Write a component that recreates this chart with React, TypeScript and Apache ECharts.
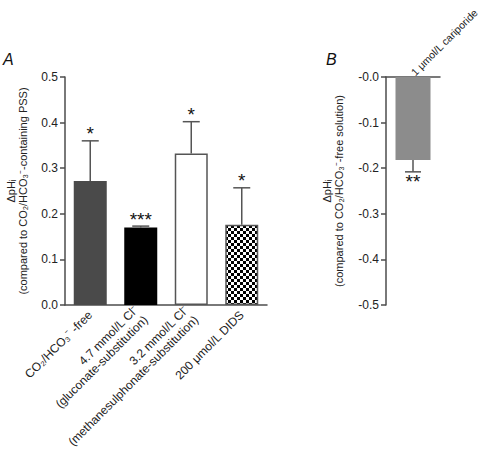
import React, { useEffect, useRef } from "react";
import * as echarts from "echarts";

const categoriesA = [
  "CO₂/HCO₃⁻ -free",
  "4.7 mmol/L Cl⁻\n(gluconate-substitution)",
  "3.2 mmol/L Cl⁻\n(methanesulphonate-substitution)",
  "200 μmol/L DIDS",
];
const meansA = [0.272, 0.170, 0.332, 0.176];
const errA = [0.088, 0.003, 0.070, 0.081];
const sigA = ["*", "***", "*", "*"];

const categoriesB = ["1 μmol/L cariporide"];
const meansB = [-0.182];
const errB = [0.026];
const sigB = ["**"];

const ticksA = [0, 0.5, 0.1];
const ticksB = [-0.5, 0, 0.1];

const FONT = "'Liberation Sans', Arial, Helvetica, sans-serif";
const AXIS_COLOR = "#4d4d4d";

function checker(): HTMLCanvasElement {
  const c = document.createElement("canvas");
  c.width = 6;
  c.height = 6;
  const ctx = c.getContext("2d")!;
  ctx.fillStyle = "#fff";
  ctx.fillRect(0, 0, 6, 6);
  ctx.fillStyle = "#000";
  ctx.fillRect(0, 0, 3, 3);
  ctx.fillRect(3, 3, 3, 3);
  return c;
}

export default function App() {
  const ref = useRef<HTMLDivElement>(null);
  useEffect(() => {
    if (!ref.current) return;
    const chart = echarts.init(ref.current, undefined, { renderer: "svg" });
    const pattern: any = { image: checker(), repeat: "repeat", imageWidth: 6, imageHeight: 6 };
    const fillsA: any[] = [
      { color: "#4a4a4a", borderColor: "#4a4a4a", borderWidth: 0 },
      { color: "#000000", borderColor: "#000", borderWidth: 0 },
      { color: "#ffffff", borderColor: "#555", borderWidth: 1.5 },
      { color: pattern, borderColor: "#555", borderWidth: 1.5 },
    ];
    const axisLine = { show: true, lineStyle: { color: AXIS_COLOR, width: 1.5 } };
    const labelStyle = { color: "#222", fontFamily: FONT, fontSize: 12 };

    const errRender = (dir: number, capW: number) => (params: any, api: any) => {
      const idx = params.dataIndex;
      const x = api.value(0);
      const mean = api.value(1);
      const end = api.value(2);
      const sig = dir > 0 ? sigA[idx] : sigB[idx];
      const p0 = api.coord([x, mean]);
      const p1 = api.coord([x, end]);
      const style = { stroke: "#555", lineWidth: 1.5 };
      return {
        type: "group",
        children: [
          { type: "line", shape: { x1: p0[0], y1: p0[1], x2: p1[0], y2: p1[1] }, style },
          { type: "line", shape: { x1: p1[0] - capW / 2, y1: p1[1], x2: p1[0] + capW / 2, y2: p1[1] }, style },
          {
            type: "text",
            style: {
              text: sig,
              x: p1[0],
              y: dir > 0 ? p1[1] - 7 : p1[1] + 10,
              align: "center",
              verticalAlign: "middle",
              fontSize: 19,
              fontFamily: FONT,
              fill: "#111",
            },
          },
        ],
      };
    };

    chart.setOption({
      animation: false,
      textStyle: { fontFamily: FONT },
      graphic: [
        { type: "text", left: 3, top: 51, style: { text: "A", font: `italic 16px ${FONT}`, fill: "#111" } },
        { type: "text", left: 326, top: 51, style: { text: "B", font: `italic 16px ${FONT}`, fill: "#111" } },
      ],
      grid: [
        { left: 65, top: 77, width: 202, height: 228, outerBoundsMode: "none", containLabel: false },
        { left: 386, top: 77, width: 54, height: 228, outerBoundsMode: "none", containLabel: false },
      ],
      xAxis: [
        {
          type: "category",
          gridIndex: 0,
          data: categoriesA,
          axisLine,
          axisTick: { show: false },
          axisLabel: { ...labelStyle, fontSize: 12, rotate: 45, margin: 8, interval: 0, lineHeight: 14 },
        },
        {
          type: "category",
          gridIndex: 1,
          position: "top",
          data: categoriesB,
          axisLine: { ...axisLine, onZero: false },
          axisTick: { show: false },
          axisLabel: { ...labelStyle, fontSize: 10.5, rotate: -45, margin: 3, interval: 0, overflow: "none" },
        },
      ],
      yAxis: [
        {
          type: "value",
          gridIndex: 0,
          min: ticksA[0],
          max: ticksA[1],
          interval: ticksA[2],
          axisLine,
          axisTick: { show: true, length: 5, lineStyle: { color: AXIS_COLOR, width: 1.5 } },
          splitLine: { show: false },
          axisLabel: { ...labelStyle, margin: 7, formatter: (v: number) => v.toFixed(1) },
          name: "ΔpHᵢ\n(compared to CO₂/HCO₃⁻-containing PSS)",
          nameLocation: "middle",
          nameRotate: 90,
          nameGap: 36,
          nameTextStyle: { color: "#222", fontFamily: FONT, fontSize: 11, lineHeight: 12 },
        },
        {
          type: "value",
          gridIndex: 1,
          min: ticksB[0],
          max: ticksB[1],
          interval: ticksB[2],
          axisLine,
          axisTick: { show: true, length: 5, lineStyle: { color: AXIS_COLOR, width: 1.5 } },
          splitLine: { show: false },
          axisLabel: {
            ...labelStyle,
            margin: 7,
            formatter: (v: number) => (Math.abs(v) < 1e-9 ? "-0.0" : v.toFixed(1)),
          },
          name: "ΔpHᵢ\n(compared to CO₂/HCO₃⁻-free solution)",
          nameLocation: "middle",
          nameRotate: 90,
          nameGap: 41,
          nameTextStyle: { color: "#222", fontFamily: FONT, fontSize: 11, lineHeight: 12 },
        },
      ],
      series: [
        {
          type: "bar",
          xAxisIndex: 0,
          yAxisIndex: 0,
          barWidth: 33,
          data: meansA.map((v, i) => ({ value: v, itemStyle: fillsA[i] })),
        },
        {
          type: "custom",
          xAxisIndex: 0,
          yAxisIndex: 0,
          renderItem: errRender(1, 17),
          data: meansA.map((v, i) => [i, v, v + errA[i]]),
          z: 5,
        },
        {
          type: "bar",
          xAxisIndex: 1,
          yAxisIndex: 1,
          barWidth: 35,
          data: meansB,
          itemStyle: { color: "#8c8c8c" },
        },
        {
          type: "custom",
          xAxisIndex: 1,
          yAxisIndex: 1,
          renderItem: errRender(-1, 16),
          data: meansB.map((v, i) => [i, v, v - errB[i]]),
          z: 5,
        },
      ],
    });
    return () => chart.dispose();
  }, []);
  return (
    <div
      ref={ref}
      style={{ position: "fixed", left: 0, top: 0, width: 480, height: 459, background: "#fff" }}
    />
  );
}
